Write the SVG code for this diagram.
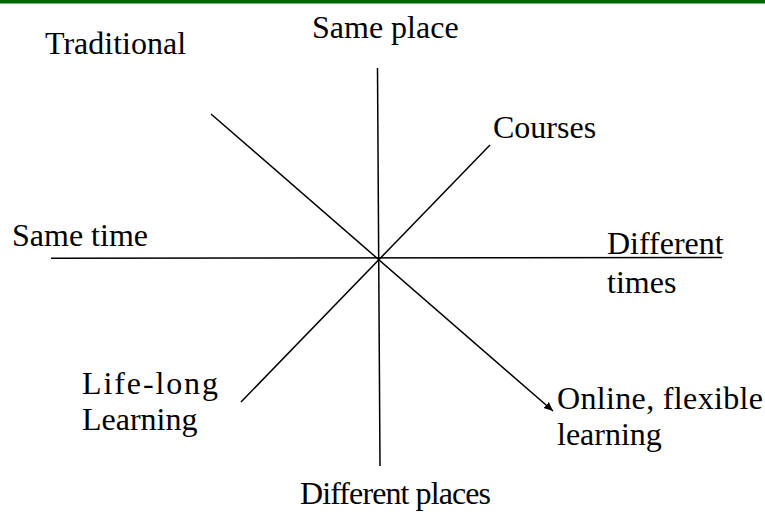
<svg xmlns="http://www.w3.org/2000/svg" width="765" height="514" viewBox="0 0 765 514">
<defs>
<style>
text{font-family:"Liberation Serif","Times New Roman",serif;font-size:32px;fill:#000}
.ln{stroke:#000;stroke-width:1.5;fill:none}
</style>
<marker id="arr" markerWidth="10" markerHeight="10" refX="9" refY="5" orient="auto" markerUnits="userSpaceOnUse">
<path d="M0,1 L9,5 L0,9 z" fill="#000"/>
</marker>
</defs>
<rect x="0" y="0" width="765" height="3.5" fill="#006600"/>
<g id="connectors">
<line class="ln" x1="377.5" y1="68" x2="380" y2="466"/>
<line class="ln" x1="51" y1="258.3" x2="722" y2="257.5"/>
<line class="ln" x1="211" y1="114" x2="553" y2="411" marker-end="url(#arr)"/>
<line class="ln" x1="490" y1="145" x2="241" y2="402"/>
</g>
<g id="same-place"><text x="312" y="38">Same place</text></g>
<g id="traditional"><text x="45" y="54">Traditional</text></g>
<g id="courses"><text x="493" y="138">Courses</text></g>
<g id="same-time"><text x="12" y="246">Same time</text></g>
<g id="different-times"><text x="607" y="254">Different</text><text x="607" y="293">times</text></g>
<g id="life-long"><text x="82" y="394" textLength="136" lengthAdjust="spacing">Life-long</text><text x="82" y="430">Learning</text></g>
<g id="online"><text x="557" y="409" textLength="206" lengthAdjust="spacing">Online, flexible</text><text x="557" y="445">learning</text></g>
<g id="different-places"><text x="300" y="504" textLength="191" lengthAdjust="spacing">Different places</text></g>
</svg>
